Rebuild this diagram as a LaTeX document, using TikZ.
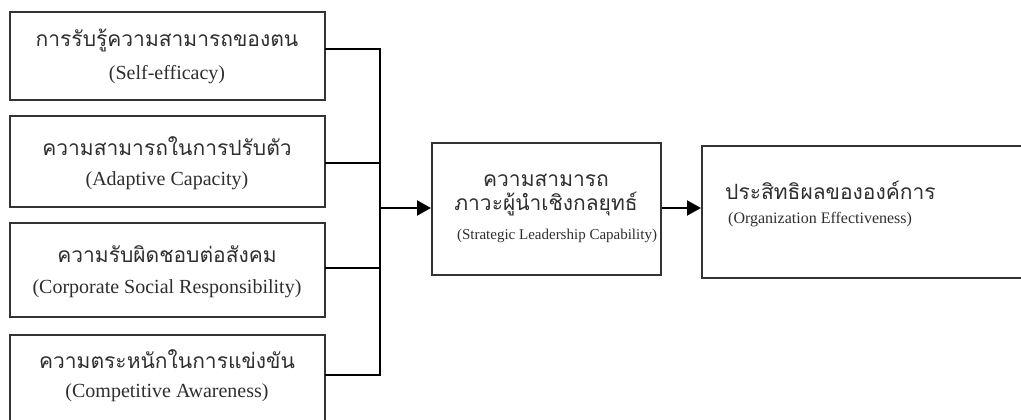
\documentclass[tikz,border=0pt]{standalone}
\usepackage{fontspec}
\setmainfont{Liberation Serif}
\newfontfamily\thaifont[Script=Thai]{Loma}
\usetikzlibrary{arrows.meta}
\begin{document}
\begin{tikzpicture}[x=1pt,y=-1pt,
  box/.style={draw=black!80,line width=2pt},
  link/.style={draw=black,line width=2.2pt},
  arr/.style={link,-{Triangle[length=14pt,width=15pt]}},
  th/.style={font=\thaifont\fontsize{21}{23}\selectfont,text=black!82,inner sep=0pt},
  en/.style={font=\fontsize{20}{22}\selectfont,text=black!82,inner sep=0pt}]
\useasboundingbox (0,0) rectangle (1021,420);
\clip (0,0) rectangle (1021,420);
% left boxes
\draw[box] (10,12) rectangle (325,100);
\coordinate (b1e) at (325,49);
\draw[box] (10,116) rectangle (325,207);
\coordinate (b2e) at (325,163);
\draw[box] (10,223) rectangle (325,317);
\coordinate (b3e) at (325,268);
\draw[box] (10,335) rectangle (325,425);
\coordinate (b4e) at (325,375);
\node[th] (t1) at (167,40) {การรับรู้ความสามารถของตน};
\node[en] (e1) at (167,75) {(Self-efficacy)};
\node[th] (t2) at (167,146) {ความสามารถในการปรับตัว};
\node[en] (e2) at (167,181) {(Adaptive Capacity)};
\node[th] (t3) at (167,254) {ความรับผิดชอบต่อสังคม};
\node[en] (e3) at (167,289) {(Corporate Social Responsibility)};
\node[th] (t4) at (167,359) {ความตระหนักในการแข่งขัน};
\node[en] (e4) at (167,393) {(Competitive Awareness)};
% middle box
\node[box,minimum width=229pt,minimum height=132pt,inner sep=0pt] (b5) at (546.5,209) {};
\node[th] (t5a) at (546,180) {ความสามารถ};
\node[th] (t5b) at (546,204) {ภาวะผู้นำเชิงกลยุทธ์};
\node[en,font=\fontsize{15}{17}\selectfont] (e5) at (557,236) {(Strategic Leadership Capability)};
% right box
\node[box,minimum width=330pt,minimum height=132pt,inner sep=0pt] (b6) at (867,212) {};
\node[th,anchor=west] (t6) at (725,190) {ประสิทธิผลขององค์การ};
\node[en,anchor=west,font=\fontsize{16}{18}\selectfont] (e6) at (728,220) {(Organization Effectiveness)};
% connectors
\coordinate (bus1) at (380,49);
\coordinate (bus4) at (380,375);
\coordinate (busm) at (380,208);
\draw[link] (b1e) -- (bus1) -- (bus4) -- (b4e);
\draw[link] (b2e) -- (b2e -| bus1);
\draw[link] (b3e) -- (b3e -| bus1);
\draw[arr] (busm) -- (busm -| b5.west);
\draw[arr] (b5.east |- busm) -- (busm -| b6.west);
\end{tikzpicture}
\end{document}
